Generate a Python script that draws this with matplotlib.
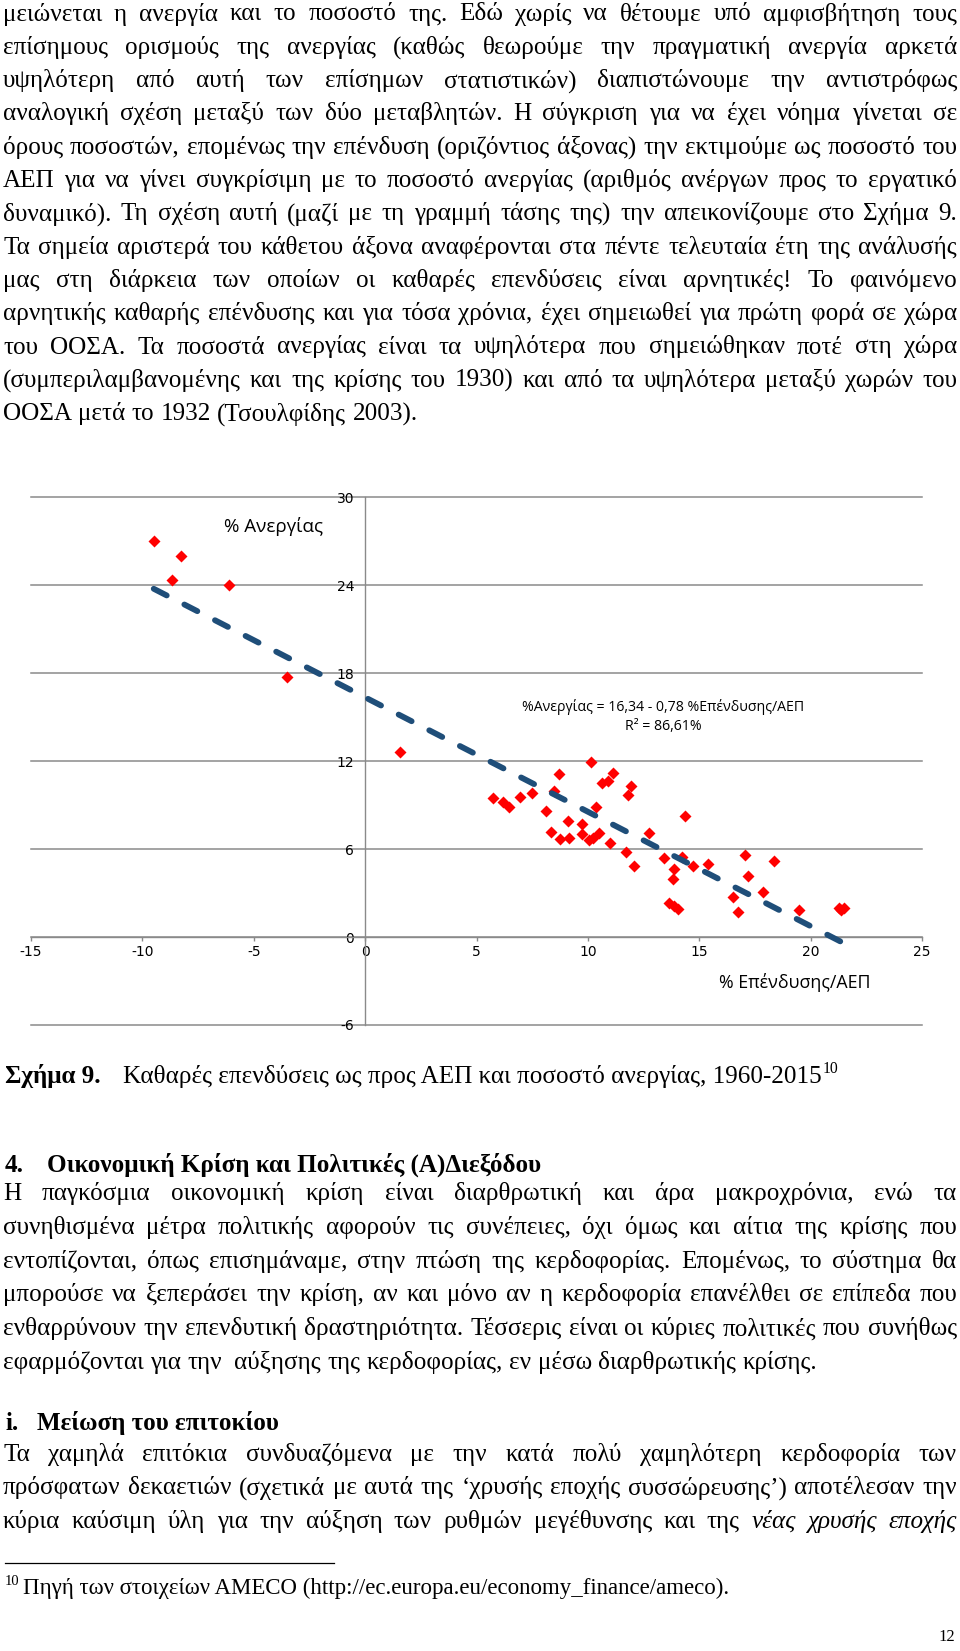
import matplotlib.pyplot as plt
import numpy as np

# chart data (net investment % of GDP vs unemployment %)
invest_gdp = [-9.49, -8.25, -8.67, -6.11, -3.50, 1.57,
              5.74, 6.21, 6.44, 6.96, 7.49, 8.69, 8.46, 8.12, 9.10, 8.36, 8.76, 9.16,
              9.75, 9.73, 10.03, 10.23, 10.48, 10.14, 10.36, 10.63, 10.90, 11.11, 10.98,
              11.95, 11.80, 11.72, 12.05, 12.74, 13.40, 13.85, 13.82, 13.63, 13.85, 14.03,
              14.35, 14.23, 14.72, 15.39, 17.07, 17.18, 18.37, 16.50, 16.74, 17.85, 19.50,
              21.26, 21.52, 21.37]
unemployment = [27.00, 25.98, 24.31, 23.99, 17.70, 12.59,
                9.50, 9.19, 8.89, 9.57, 9.80, 11.10, 9.96, 8.60, 7.92, 7.19, 6.69, 6.78,
                7.69, 7.01, 6.62, 6.78, 7.08, 11.95, 8.89, 10.48, 10.66, 11.21, 6.40,
                10.32, 9.69, 5.79, 4.81, 7.08, 5.42, 4.63, 3.97, 2.31, 2.08, 1.91,
                8.28, 5.44, 4.81, 4.99, 5.60, 4.19, 5.21, 2.72, 1.70, 3.10, 1.81,
                1.97, 2.01, 1.86]
trend_a = 16.34
trend_b = -0.78
x_ticks = [-15, -10, -5, 0, 5, 10, 15, 20, 25]
y_ticks = [-6, 0, 6, 12, 18, 24, 30]

# page text
para1 = [
    "μειώνεται η ανεργία και το ποσοστό της. Εδώ χωρίς να θέτουμε υπό αμφισβήτηση τους",
    "επίσημους ορισμούς της ανεργίας (καθώς θεωρούμε την πραγματική ανεργία αρκετά",
    "υψηλότερη από αυτή των επίσημων στατιστικών) διαπιστώνουμε την αντιστρόφως",
    "αναλογική σχέση μεταξύ των δύο μεταβλητών. Η σύγκριση για να έχει νόημα γίνεται σε",
    "όρους ποσοστών, επομένως την επένδυση (οριζόντιος άξονας) την εκτιμούμε ως ποσοστό του",
    "ΑΕΠ για να γίνει συγκρίσιμη με το ποσοστό ανεργίας (αριθμός ανέργων προς το εργατικό",
    "δυναμικό). Τη σχέση αυτή (μαζί με τη γραμμή τάσης της) την απεικονίζουμε στο Σχήμα 9.",
    "Τα σημεία αριστερά του κάθετου άξονα αναφέρονται στα πέντε τελευταία έτη της ανάλυσής",
    "μας στη διάρκεια των οποίων οι καθαρές επενδύσεις είναι αρνητικές! Το φαινόμενο",
    "αρνητικής καθαρής επένδυσης και για τόσα χρόνια, έχει σημειωθεί για πρώτη φορά σε χώρα",
    "του ΟΟΣΑ. Τα ποσοστά ανεργίας είναι τα υψηλότερα που σημειώθηκαν ποτέ στη χώρα",
    "(συμπεριλαμβανομένης και της κρίσης του 1930) και από τα υψηλότερα μεταξύ χωρών του",
    "ΟΟΣΑ μετά το 1932 (Τσουλφίδης 2003).",
]
para2 = [
    "Η παγκόσμια οικονομική κρίση είναι διαρθρωτική και άρα μακροχρόνια, ενώ τα",
    "συνηθισμένα μέτρα πολιτικής αφορούν τις συνέπειες, όχι όμως και αίτια της κρίσης που",
    "εντοπίζονται, όπως επισημάναμε, στην πτώση της κερδοφορίας. Επομένως, το σύστημα θα",
    "μπορούσε να ξεπεράσει την κρίση, αν και μόνο αν η κερδοφορία επανέλθει σε επίπεδα που",
    "ενθαρρύνουν την επενδυτική δραστηριότητα. Τέσσερις είναι οι κύριες πολιτικές που συνήθως",
    "εφαρμόζονται για την  αύξησης της κερδοφορίας, εν μέσω διαρθρωτικής κρίσης.",
]
para3 = [
    "Τα χαμηλά επιτόκια συνδυαζόμενα με την κατά πολύ χαμηλότερη κερδοφορία των",
    "πρόσφατων δεκαετιών (σχετικά με αυτά της ‘χρυσής εποχής συσσώρευσης’) αποτέλεσαν την",
]
para3_last = "κύρια καύσιμη ύλη για την αύξηση των ρυθμών μεγέθυνσης και της"
para3_last_it = "νέας χρυσής εποχής"
caption_bold = "Σχήμα 9."
caption_text = "Καθαρές επενδύσεις ως προς ΑΕΠ και ποσοστό ανεργίας, 1960-2015"
footnote = "Πηγή των στοιχείων AMECO (http://ec.europa.eu/economy_finance/ameco)."

W, H = 960, 1651
fig = plt.figure(figsize=(W / 100, H / 100), dpi=100)
page = fig.add_axes([0, 0, 1, 1])
page.set_xlim(0, W)
page.set_ylim(H, 0)
page.axis('off')
rend = fig.canvas.get_renderer()

FS = 18.1
body = dict(family='Liberation Serif', size=FS, color='black')
bold = dict(body, weight='bold')
ital = dict(body, style='italic')


def text_w(s, st):
    t = page.text(0, 0, s, **st)
    w = t.get_window_extent(renderer=rend).width
    t.remove()
    return w


def put_line(y, segs, x0=3, x1=957, justify=True):
    words = []
    for txt, st in segs:
        for w in txt.split(' '):
            words.append((w, st))
    widths = [text_w(w, st) for w, st in words]
    space = text_w('a a', body) - text_w('aa', body)
    if justify and len(words) > 1:
        gap = (x1 - x0 - sum(widths)) / (len(words) - 1)
    else:
        gap = space
    x = x0
    for (w, st), wd in zip(words, widths):
        if w:
            page.text(x, y, w, va='baseline', ha='left', **st)
        x += wd + gap


# paragraph 1
for i, line in enumerate(para1):
    put_line(20.5 + 33.3 * i, [(line, body)], justify=(i < len(para1) - 1))

# caption
page.text(5, 1083, caption_bold, va='baseline', **bold)
page.text(123, 1083, caption_text, va='baseline', **body)
cw = text_w(caption_text, body)
page.text(123 + cw + 1, 1073, "10", va='baseline', **dict(body, size=FS * 0.62))

# heading 4
page.text(5, 1172, "4.", va='baseline', **bold)
page.text(47, 1172, "Οικονομική Κρίση και Πολιτικές (Α)Διεξόδου", va='baseline', **bold)

# paragraph 2
for i, line in enumerate(para2):
    put_line(1200 + 33.8 * i, [(line, body)], justify=(i < len(para2) - 1))

# heading i
page.text(5, 1430, "i.", va='baseline', **bold)
page.text(37, 1430, "Μείωση του επιτοκίου", va='baseline', **bold)

# paragraph 3
for i, line in enumerate(para3):
    put_line(1461 + 33.4 * i, [(line, body)])
put_line(1461 + 33.4 * 2, [(para3_last, body), (para3_last_it, ital)])

# footnote
page.plot([5, 334], [1563, 1563], color='black', lw=0.9)
page.text(5, 1585, "10", va='baseline', **dict(body, size=10.5))
page.text(23, 1594, footnote, va='baseline', **dict(body, size=16.5))
page.text(955, 1641, "12", va='baseline', ha='right', **dict(body, size=12))

# chart
grid_c = '#8a8a8a'
ax = fig.add_axes([31 / W, 1 - 1025 / H, (922 - 31) / W, (1025 - 497) / H])
ax.patch.set_alpha(0)
ax.set_xlim(-15, 25)
ax.set_ylim(-6, 30)
ax.set_xticks(x_ticks)
ax.set_yticks(y_ticks)
ax.set_xticklabels([str(v) for v in x_ticks], family='Open Sans', fontsize=7)
ax.set_yticklabels([str(v) for v in y_ticks], family='Open Sans', fontsize=7)
ax.spines['top'].set_visible(False)
ax.spines['right'].set_visible(False)
ax.spines['bottom'].set_position(('data', 0))
ax.spines['left'].set_position(('data', 0))
for s in ['bottom', 'left']:
    ax.spines[s].set_color(grid_c)
    ax.spines[s].set_linewidth(1.0)
ax.grid(axis='y', color=grid_c, lw=1.1)
for gl in ax.get_ygridlines():
    gl.set_clip_on(False)
ax.tick_params(axis='x', direction='out', length=3, width=1, color=grid_c, pad=3)
ax.tick_params(axis='y', length=0, pad=8)

ax.plot(invest_gdp, unemployment, 'D', color='#FF0000', ms=6.5, mec='none', zorder=3)
tx = np.array([min(invest_gdp), max(invest_gdp)])
ax.plot(tx, trend_a + trend_b * tx, color='#1F4E79', lw=4.2, ls=(0, (2.5, 3.4)),
        dash_capstyle='round', zorder=4)

sans = dict(family='Open Sans', color='black')
page.text(274, 526, "% Ανεργίας", ha='center', va='center', size=13.5, **sans)
page.text(795, 982, "% Επένδυσης/ΑΕΠ", ha='center', va='center', size=12.8, **sans)
page.text(663, 707, "%Ανεργίας = 16,34 - 0,78 %Επένδυσης/ΑΕΠ", ha='center', va='center',
          size=10.2, **sans)
page.text(663, 727, "R² = 86,61%", ha='center', va='center', size=10.2, **sans)

fig.savefig('out.png', dpi=100)
